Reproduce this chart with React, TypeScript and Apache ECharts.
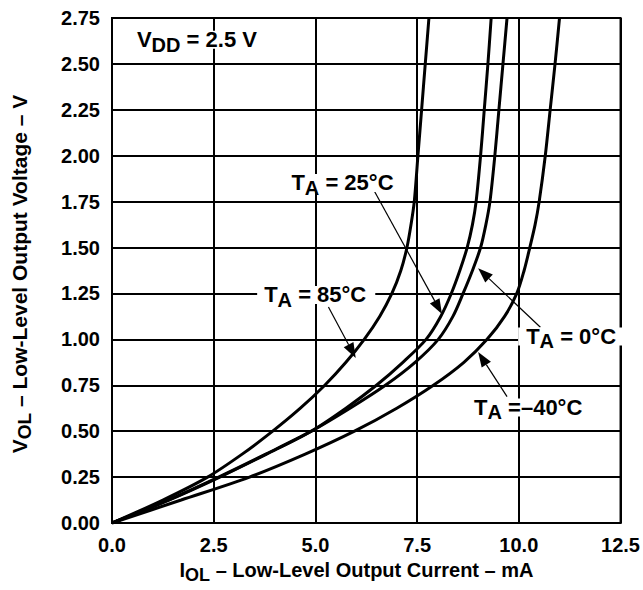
import React, { useEffect, useRef } from 'react';
import * as echarts from 'echarts';

// ---- tick labels ----
const xTickLabels = ['0.0', '2.5', '5.0', '7.5', '10.0', '12.5'];
const yTickLabels = ['0.00', '0.25', '0.50', '0.75', '1.00', '1.25', '1.50', '1.75', '2.00', '2.25', '2.50', '2.75'];

// ---- series: VOL (V) levels and the IOL (mA) read for each curve ----
const vol = [0, 0.125, 0.25, 0.375, 0.5, 0.625, 0.75, 0.875, 1.0, 1.125, 1.25, 1.375, 1.5, 1.625, 1.75, 2.0, 2.25, 2.5, 2.75];
const iol85 = [0, 1.25, 2.35, 3.2, 3.95, 4.63, 5.23, 5.75, 6.2, 6.58, 6.88, 7.1, 7.25, 7.35, 7.43, 7.52, 7.61, 7.7, 7.79];
const iol25 = [0, 1.4, 2.65, 3.8, 4.9, 5.75, 6.5, 7.15, 7.72, 8.08, 8.34, 8.55, 8.73, 8.86, 8.95, 9.06, 9.15, 9.24, 9.32];
const iol0 = [0, 1.38, 2.62, 3.78, 4.9, 5.85, 6.72, 7.45, 8.02, 8.38, 8.63, 8.86, 9.06, 9.19, 9.29, 9.41, 9.51, 9.61, 9.71];
const iolM40 = [0, 1.7, 3.38, 4.75, 5.96, 7.0, 7.9, 8.65, 9.22, 9.65, 9.95, 10.13, 10.27, 10.4, 10.5, 10.65, 10.77, 10.89, 11.0];

// ---- annotation texts ----
const labelVdd = '{m|V}{s|DD}{m| = 2.5 V}';
const label25 = '{m|T}{s|A}{m| = 25°C}';
const label85 = '{m|T}{s|A}{m| = 85°C}';
const label0 = '{m|T}{s|A}{m| = 0°C}';
const labelM40 = '{m|T}{s|A}{m| =–40°C}';
const xTitle = '{m|I}{s|OL}{m| – Low-Level Output Current – mA}';
const yTitle = '{m|V}{s|OL}{m| – Low-Level Output Voltage – V}';

const FONT = '"Liberation Sans", Arial, Helvetica, sans-serif';

export default function App() {
  const ref = useRef<HTMLDivElement>(null);

  useEffect(() => {
    const chart = echarts.init(ref.current!, null, { renderer: 'svg' });

    const line = (name: string, iol: number[]) => ({
      type: 'line',
      name,
      data: iol.map((x, i) => [x, vol[i]]),
      smooth: 0.3,
      symbol: 'none',
      silent: true,
      z: 3,
      lineStyle: { color: '#000', width: 3 },
    });

    const axisLabelBase = {
      color: '#000',
      fontFamily: FONT,
      fontWeight: 'bold',
      fontSize: 20,
      margin: 12,
    };

    chart.setOption({
      animation: false,
      backgroundColor: '#fff',
      grid: {
        left: 112, top: 18, width: 510, height: 505,
        show: true, borderColor: '#000', borderWidth: 2, backgroundColor: 'transparent',
      },
      xAxis: {
        type: 'value', min: 0, max: 12.5, interval: 2.5,
        axisLine: { show: true, lineStyle: { color: '#000', width: 2 } },
        axisTick: { show: false },
        splitLine: { show: true, lineStyle: { color: '#000', width: 2 } },
        axisLabel: { ...axisLabelBase, formatter: (v: number) => xTickLabels[Math.round(v / 2.5)] },
      },
      yAxis: {
        type: 'value', min: 0, max: 2.75, interval: 0.25,
        axisLine: { show: true, lineStyle: { color: '#000', width: 2 } },
        axisTick: { show: false },
        splitLine: { show: true, lineStyle: { color: '#000', width: 2 } },
        axisLabel: { ...axisLabelBase, formatter: (v: number) => yTickLabels[Math.round(v / 0.25)] },
      },
      series: [
        line('TA = 85°C', iol85),
        line('TA = 25°C', iol25),
        line('TA = 0°C', iol0),
        line('TA = –40°C', iolM40),
      ],
    });

    const px = (p: [number, number]) => chart.convertToPixel({ gridIndex: 0 }, p) as number[];

    const rich = (size: number, subSize: number, subDrop: number) => ({
      m: { fontSize: size, fontWeight: 'bold', fontFamily: FONT, fill: '#000', lineHeight: 18 },
      s: { fontSize: subSize, fontWeight: 'bold', fontFamily: FONT, fill: '#000', lineHeight: 18, padding: [subDrop, 0, 0, 0] },
    });

    // annotation boxes: [text, left-of-text (data), padL, padR]
    const boxes: [string, [number, number], number, number][] = [
      [labelVdd, [0.613, 2.631], 6, 6],
      [label25, [4.41, 1.852], 5, 5],
      [label85, [3.74, 1.242], 7, 9],
      [label0, [10.18, 1.016], 8, 9],
      [labelM40, [8.9, 0.629], 4, 4],
    ];
    // arrows: tail -> tip (data coords)
    const arrows: [[number, number], [number, number]][] = [
      [[6.42, 1.819], [8.11, 1.138]],
      [[5.32, 1.176], [5.99, 0.899]],
      [[10.53, 1.066], [9.0, 1.387]],
      [[9.71, 0.688], [9.0, 0.931]],
    ];

    const graphics: any[] = [];
    arrows.forEach(([tail, tip]) => {
      const a = px(tail);
      const b = px(tip);
      const dx = b[0] - a[0];
      const dy = b[1] - a[1];
      const len = Math.hypot(dx, dy);
      const ux = dx / len;
      const uy = dy / len;
      const L = 15;
      const W = 11;
      const bx = b[0] - ux * L;
      const by = b[1] - uy * L;
      graphics.push({
        type: 'line', z: 50, silent: true,
        shape: { x1: a[0], y1: a[1], x2: bx, y2: by },
        style: { stroke: '#000', lineWidth: 1.2 },
      });
      graphics.push({
        type: 'polygon', z: 50, silent: true,
        shape: {
          points: [
            [b[0], b[1]],
            [bx - uy * W / 2, by + ux * W / 2],
            [bx + uy * W / 2, by - ux * W / 2],
          ],
        },
        style: { fill: '#000' },
      });
    });

    boxes.forEach(([text, at, padL, padR]) => {
      const p = px(at);
      graphics.push({
        type: 'text', z: 60, silent: true,
        x: p[0] - padL, y: p[1],
        style: {
          text,
          rich: rich(22, 20, 10),
          align: 'left',
          verticalAlign: 'middle',
          backgroundColor: '#fff',
          padding: [0, padR, 0, padL],
        },
      });
    });

    graphics.push({
      type: 'text', z: 60, silent: true,
      x: 356.5, y: 570,
      style: { text: xTitle, rich: rich(20, 18, 10), align: 'center', verticalAlign: 'middle' },
    });
    graphics.push({
      type: 'text', z: 60, silent: true,
      x: 19, y: 274, rotation: Math.PI / 2,
      style: { text: yTitle, rich: rich(21, 19, 10), align: 'center', verticalAlign: 'middle' },
    });

    chart.setOption({ graphic: graphics });

    return () => chart.dispose();
  }, []);

  return (
    <div
      ref={ref}
      style={{ position: 'fixed', left: 0, top: 0, width: 643, height: 590, background: '#fff' }}
    />
  );
}
